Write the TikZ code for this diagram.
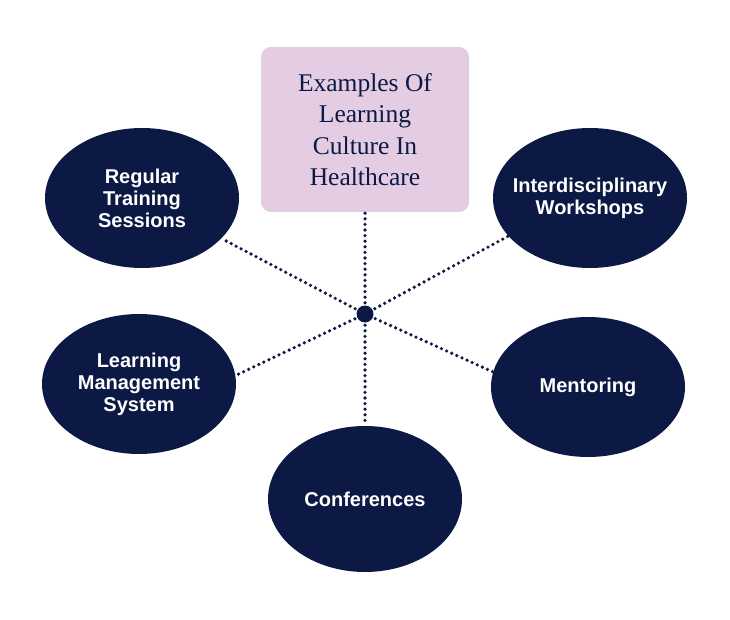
\documentclass[tikz,border=0pt]{standalone}
\usepackage{fontspec}
\setmainfont{Liberation Serif}
\newfontfamily\felirat{Liberation Sans}
\usetikzlibrary{shapes.geometric}
\definecolor{sotetkek}{HTML}{0C1944}
\definecolor{lila}{HTML}{E4CDE3}
\tikzset{
  ov/.style={ellipse,fill=sotetkek,minimum width=194pt,minimum height=140pt,inner sep=-25pt,
    text=white,align=center,font=\felirat\bfseries\fontsize{20}{22}\selectfont},
  cim/.style={fill=lila,rounded corners=10pt,minimum width=208pt,minimum height=165pt,
    inner sep=0pt,align=center,text=sotetkek,font=\fontsize{25.5}{31.3}\selectfont},
  pont/.style={circle,fill=sotetkek,minimum size=17pt,inner sep=0pt},
  vonal/.style={draw=sotetkek,line width=3.6pt,line cap=round,dash pattern=on 0pt off 5.6pt},
}
\begin{document}
\begin{tikzpicture}[x=1pt,y=-1pt]
  \useasboundingbox (0,0) rectangle (730,620);
  \node[cim] (cim) at (365,129.5) {Examples Of\\Learning\\Culture In\\Healthcare};
  \node[ov] (rts) at (142,198) {Regular\\Training\\Sessions};
  \node[ov] (iw) at (590,198) {Interdisciplinary\\Workshops};
  \node[ov] (lms) at (139,384) {Learning\\Management\\System};
  \node[ov] (men) at (588,387) {Mentoring};
  \node[ov,minimum height=146pt] (konf) at (365,499) {Conferences};
  \coordinate (kp) at (365,314);
  % pontozott vonalak a kozeppontbol
  \draw[vonal] (kp) -- (cim.south);
  \foreach \c in {rts.333,iw.205,lms.5,men.171,konf.north}
    \draw[vonal] (kp) -- (\c);
  \node[pont] (p) at (kp) {};
\end{tikzpicture}
\end{document}
